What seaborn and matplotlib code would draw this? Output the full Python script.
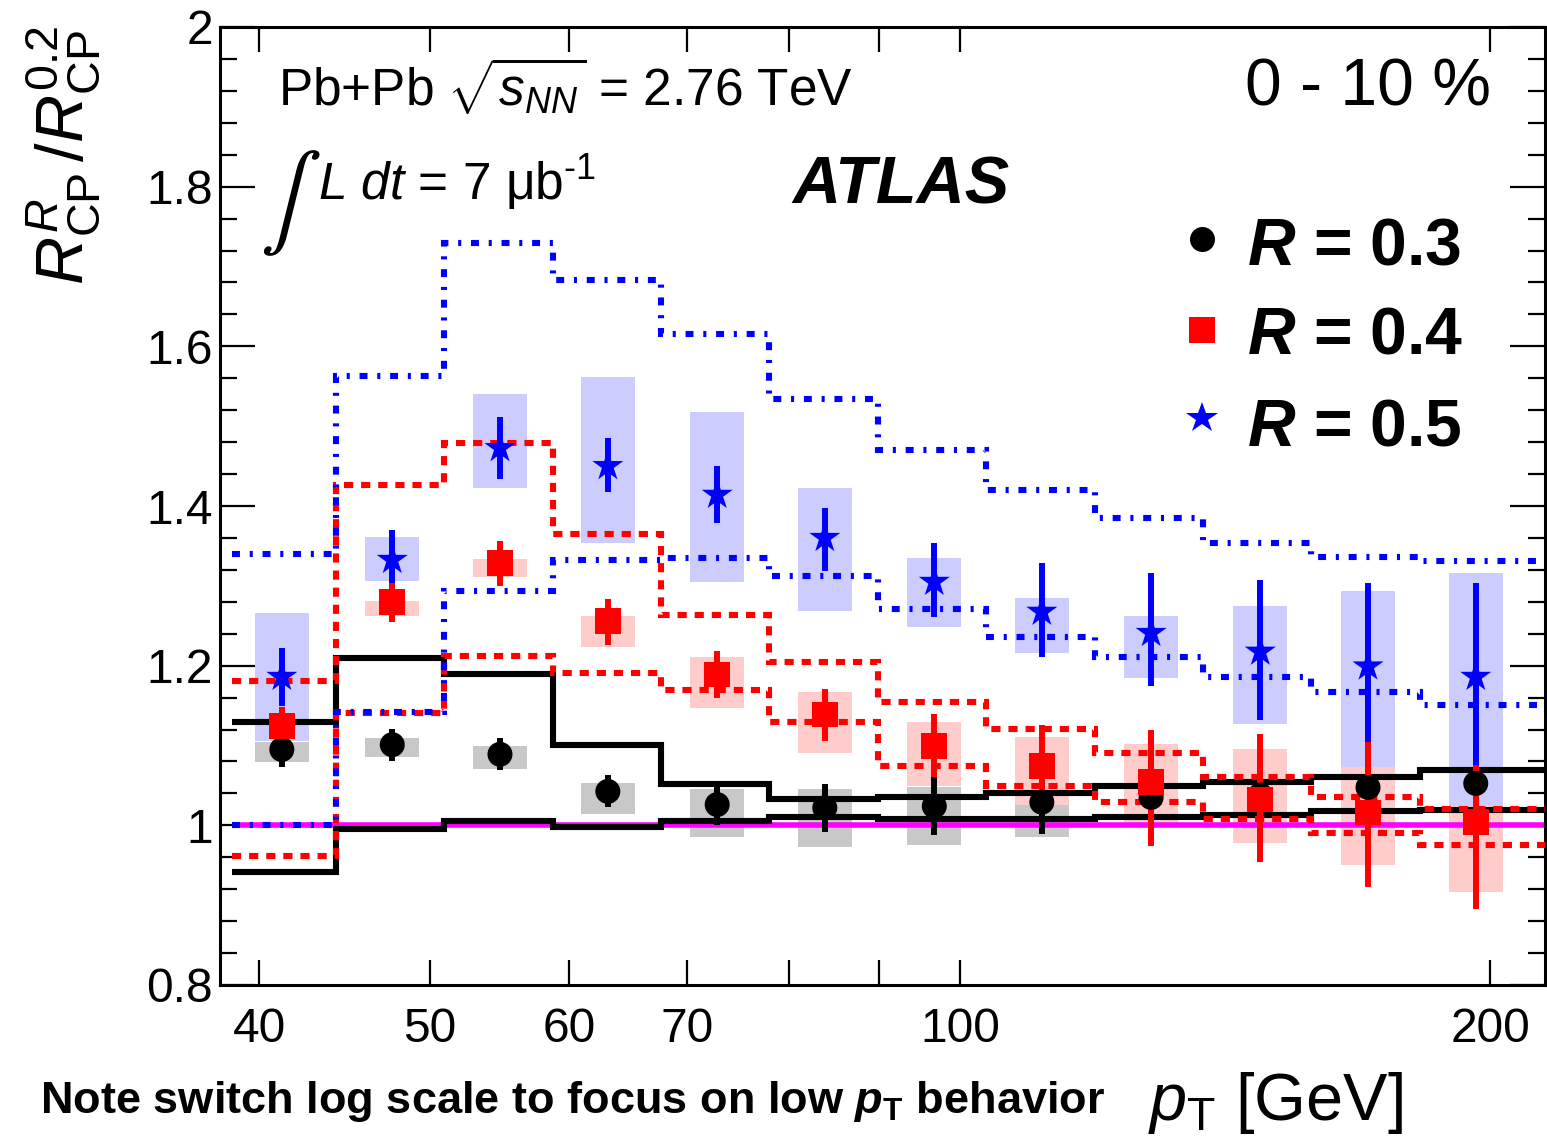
import numpy as np
import pandas as pd
import matplotlib
matplotlib.use("Agg")
import matplotlib.pyplot as plt
import seaborn as sns
from matplotlib.ticker import FixedLocator, FixedFormatter, MultipleLocator, NullLocator
from matplotlib.lines import Line2D

# ---------------- data ----------------
bin_edges = [38.6, 44.2, 50.9, 58.7, 67.6, 77.9, 89.8, 103.5, 119.3, 137.4, 158.3, 182.5, 216.0]
pt_centers = [41.2, 47.6, 54.8, 63.1, 72.8, 83.8, 96.7, 111.3, 128.4, 148.1, 170.5, 196.3]

# R = 0.3 (black circles)
r03_val = [1.095, 1.101, 1.089, 1.0425, 1.026, 1.022, 1.024, 1.029, 1.035, 1.038, 1.0475, 1.0525]
r03_stat_hi = [1.117, 1.121, 1.109, 1.0625, 1.051, 1.052, 1.060, 1.069, 1.085, 1.088, 1.0975, 1.1025]
r03_stat_lo = [1.073, 1.081, 1.069, 1.0225, 1.001, 0.992, 0.988, 0.989, 0.975, 0.973, 0.9725, 0.9675]
r03_sys_hi = [1.105, 1.110, 1.100, 1.0525, 1.046, 1.046, 1.0475, 1.050, 1.060, 1.065, 1.075, 1.080]
r03_sys_lo = [1.079, 1.085, 1.071, 1.014, 0.985, 0.9725, 0.975, 0.986, 1.000, 1.010, 1.020, 1.025]
r03_band_hi = [1.13, 1.209, 1.189, 1.101, 1.052, 1.0325, 1.036, 1.041, 1.049, 1.054, 1.061, 1.069]
r03_band_lo = [0.941, 0.995, 1.006, 0.9975, 1.006, 1.011, 1.0075, 1.0075, 1.011, 1.0125, 1.0175, 1.019]

# R = 0.4 (red squares)
r04_val = [1.124, 1.28, 1.329, 1.256, 1.189, 1.139, 1.099, 1.074, 1.054, 1.0325, 1.016, 1.004]
r04_stat_hi = [1.148, 1.304, 1.356, 1.284, 1.218, 1.171, 1.139, 1.126, 1.120, 1.114, 1.104, 1.076]
r04_stat_lo = [1.095, 1.255, 1.300, 1.226, 1.159, 1.106, 1.060, 1.024, 0.974, 0.954, 0.9225, 0.895]
r04_sys_hi = [1.140, 1.281, 1.334, 1.2625, 1.211, 1.1675, 1.129, 1.111, 1.1025, 1.095, 1.0725, 1.090]
r04_sys_lo = [1.108, 1.2625, 1.311, 1.224, 1.1475, 1.091, 1.049, 1.025, 0.999, 0.9775, 0.950, 0.916]
r04_band_hi = [1.181, 1.426, 1.479, 1.365, 1.264, 1.205, 1.154, 1.121, 1.091, 1.061, 1.036, 1.021]
r04_band_lo = [0.961, 1.141, 1.2125, 1.191, 1.169, 1.129, 1.074, 1.049, 1.029, 1.0075, 0.991, 0.975]

# R = 0.5 (blue stars)
r05_val = [1.186, 1.3325, 1.4725, 1.45, 1.414, 1.36, 1.305, 1.2675, 1.241, 1.2175, 1.199, 1.186]
r05_stat_hi = [1.222, 1.370, 1.511, 1.485, 1.450, 1.3975, 1.354, 1.329, 1.316, 1.3075, 1.304, 1.304]
r05_stat_lo = [1.150, 1.2925, 1.434, 1.4175, 1.379, 1.319, 1.261, 1.211, 1.174, 1.1325, 1.095, 1.071]
r05_sys_hi = [1.266, 1.361, 1.540, 1.561, 1.5175, 1.4225, 1.335, 1.285, 1.2625, 1.275, 1.294, 1.316]
r05_sys_lo = [1.106, 1.306, 1.4225, 1.354, 1.305, 1.269, 1.249, 1.216, 1.184, 1.1275, 1.0725, 1.024]
r05_band_hi = [1.34, 1.5625, 1.73, 1.6825, 1.615, 1.534, 1.47, 1.42, 1.385, 1.354, 1.336, 1.331]
r05_band_lo = [1.0, 1.1425, 1.294, 1.3325, 1.335, 1.3125, 1.271, 1.236, 1.211, 1.186, 1.1675, 1.151]

series_labels = ["0.3", "0.4", "0.5"]
y_ticks = [0.8, 1.0, 1.2, 1.4, 1.6, 1.8, 2.0]
y_tick_labels = ["0.8", "1", "1.2", "1.4", "1.6", "1.8", "2"]
x_ticks = [40, 50, 60, 70, 80, 90, 100, 200]
x_tick_labels = ["40", "50", "60", "70", "", "", "100", "200"]

# ---------------- style ----------------
sns.set_theme(style="ticks")
plt.rcParams.update({
    "font.family": ["Liberation Sans", "DejaVu Sans"],
    "mathtext.fontset": "custom",
    "mathtext.rm": "Liberation Sans",
    "mathtext.it": "Liberation Sans:italic",
    "mathtext.bf": "Liberation Sans:bold:italic",
    "mathtext.sf": "Liberation Sans:bold",
    "axes.linewidth": 2.2,
    "axes.edgecolor": "black",
    "text.color": "black",
    "axes.labelcolor": "black",
    "xtick.color": "black",
    "ytick.color": "black",
    "xtick.labelcolor": "black",
    "ytick.labelcolor": "black",
})

fig = plt.figure(figsize=(15.47, 11.40), dpi=100)
W, H = 1547.0, 1140.0
ax = fig.add_axes([220 / W, 1 - 985 / H, 1325 / W, 958 / H])
ax.set_xscale("log")
ax.set_xlim(38.0, 214.9)
ax.set_ylim(0.8, 2.0)

df = pd.DataFrame({
    "pt": pt_centers * 3,
    "val": r03_val + r04_val + r05_val,
    "R": sum([[lab] * len(pt_centers) for lab in series_labels], []),
})

series = [
    dict(val=r03_val, shi=r03_stat_hi, slo=r03_stat_lo, yhi=r03_sys_hi, ylo=r03_sys_lo,
         bhi=r03_band_hi, blo=r03_band_lo, col="black", box="#c8c8c8", ls="-",
         marker="o", s=18.0 ** 2, zb=1.0, zl=3.0, ze=3.9, zm=5.0),
    dict(val=r04_val, shi=r04_stat_hi, slo=r04_stat_lo, yhi=r04_sys_hi, ylo=r04_sys_lo,
         bhi=r04_band_hi, blo=r04_band_lo, col="#ff0000", box="#ffcccc", ls=(0, (1.5, 1.3)),
         marker="s", s=18.5 ** 2, zb=1.1, zl=3.1, ze=4.2, zm=5.1),
    dict(val=r05_val, shi=r05_stat_hi, slo=r05_stat_lo, yhi=r05_sys_hi, ylo=r05_sys_lo,
         bhi=r05_band_hi, blo=r05_band_lo, col="#0000ff", box="#ccccff", ls=(0, (1.3, 1.6, 0.5, 1.6)),
         marker="*", s=23.5 ** 2, zb=1.2, zl=3.2, ze=4.0, zm=5.2),
]

half = 10 ** 0.0153  # half box width factor (log scale)
xc = np.array(pt_centers)

for sd in series:
    lo = np.array(sd["ylo"]); hi = np.array(sd["yhi"])
    ax.bar(xc / half, hi - lo, width=xc * half - xc / half, bottom=lo, align="edge",
           color=sd["box"], linewidth=0, zorder=sd["zb"])
    ax.stairs(sd["bhi"], bin_edges, baseline=None, color=sd["col"], linewidth=4.4,
              linestyle=sd["ls"], zorder=sd["zl"])
    ax.stairs(sd["blo"], bin_edges, baseline=None, color=sd["col"], linewidth=4.4,
              linestyle=sd["ls"], zorder=sd["zl"])
    v = np.array(sd["val"])
    ax.errorbar(xc, v, yerr=[v - np.array(sd["slo"]), np.array(sd["shi"]) - v], fmt="none",
                ecolor=sd["col"], elinewidth=4.3, capsize=0, zorder=sd["ze"])

ax.hlines(1.0, bin_edges[0], bin_edges[-1], color="#ff00ff", linewidth=4.0, zorder=2)

for sd, lab in zip(series, series_labels):
    sub = df[df["R"] == lab]
    sns.scatterplot(data=sub, x="pt", y="val", ax=ax, color=sd["col"], marker=sd["marker"],
                    s=sd["s"], linewidth=0, edgecolor="none", legend=False, zorder=sd["zm"])

ax.set_xlabel("")
ax.set_ylabel("")

# ticks
ax.xaxis.set_major_locator(FixedLocator(x_ticks))
ax.xaxis.set_major_formatter(FixedFormatter(x_tick_labels))
ax.xaxis.set_minor_locator(NullLocator())
ax.yaxis.set_major_locator(FixedLocator(y_ticks))
ax.yaxis.set_major_formatter(FixedFormatter(y_tick_labels))
ax.yaxis.set_minor_locator(MultipleLocator(0.04))
ax.tick_params(axis="x", which="major", direction="in", top=True, bottom=True, length=18,
               width=1.6, labelsize=34.5, pad=16)
ax.tick_params(axis="y", which="major", direction="in", left=True, right=True, length=25,
               width=1.6, labelsize=34.5, pad=5)
ax.tick_params(axis="y", which="minor", direction="in", left=True, right=True, length=12,
               width=1.6)
for sp in ax.spines.values():
    sp.set_visible(True)
    sp.set_linewidth(2.2)

# ---------------- texts ----------------
def fx(px):
    return px / W

def fy(py):
    return 1 - py / H

fig.text(fx(64), fy(155), r"$R^{R}_{\rm CP}\,/R^{0.2}_{\rm CP}$", rotation=90,
         ha="center", va="center", fontsize=48)
fig.text(fx(1148), fy(1120), r"$p_{\rm T}$ [GeV]", ha="left", va="baseline", fontsize=48)
fig.text(fx(40), fy(1113), r"Note switch log scale to focus on low $\mathbf{p}_{\mathsf{T}}$ behavior",
         ha="left", va="baseline", fontsize=32.5, fontweight="bold")

fig.text(fx(278), fy(107), r"Pb+Pb $\sqrt{s_{NN}}$ = 2.76 TeV", ha="left", va="baseline", fontsize=37)
fig.text(fx(260), fy(226), "\u222b", ha="left", va="baseline", fontsize=66, family="STIXGeneral")
fig.text(fx(318), fy(200), r"$L\ dt$ = 7 μb$^{\text{-1}}$", ha="left", va="baseline", fontsize=37)
fig.text(fx(792), fy(203), "ATLAS", ha="left", va="baseline", fontsize=48,
         fontweight="bold", fontstyle="italic")
fig.text(fx(1245), fy(105), "0 - 10 %", ha="left", va="baseline", fontsize=47.5)

leg_rows = [(239, 265), (330, 353), (418, 445)]
leg_ms = [18.0, 18.5, 23.5]
for sd, lab, (my, ty), ms in zip(series, series_labels, leg_rows, leg_ms):
    fig.add_artist(Line2D([fx(1202)], [fy(my)], marker=sd["marker"], markersize=ms,
                          color=sd["col"], markeredgewidth=0, linestyle="none",
                          transform=fig.transFigure))
    fig.text(fx(1247), fy(ty), r"$\mathbf{R}$ = " + lab, ha="left", va="baseline",
             fontsize=47.5, fontweight="bold")

fig.savefig("out.png", dpi=100)
